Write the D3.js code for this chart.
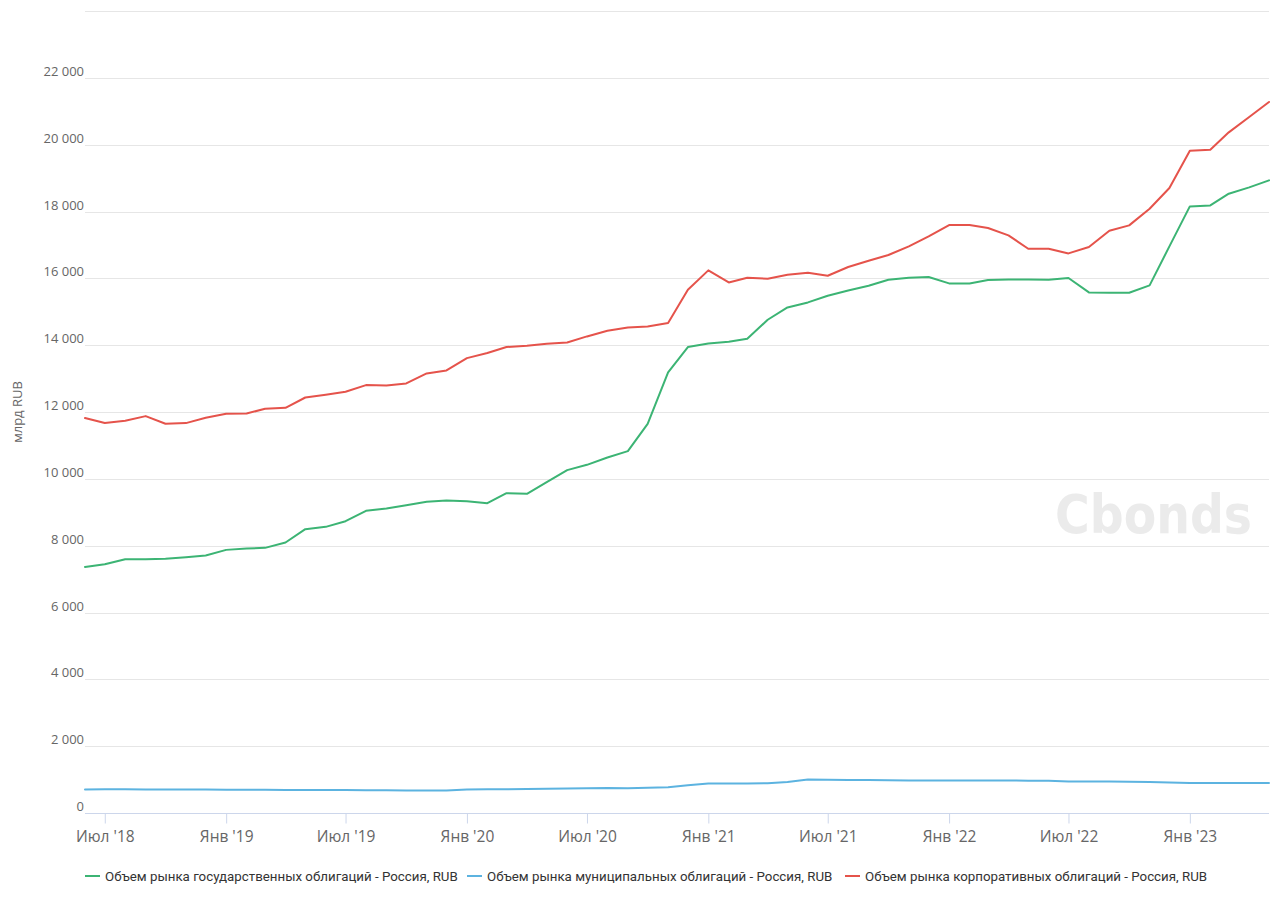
<!DOCTYPE html>
<html>
<head>
<meta charset="utf-8">
<script src="https://cdn.jsdelivr.net/npm/d3@7"></script>
<style>
  html, body { margin: 0; padding: 0; background: #fff; }
  svg { display: block; }
</style>
</head>
<body>
<svg id="chart" width="1280" height="909"></svg>
<script>
// ---- data ----
const startMonth = "2018-06"; // first point (monthly series, 60 points)
const seriesNames = [
  "Объем рынка государственных облигаций - Россия, RUB",
  "Объем рынка муниципальных облигаций - Россия, RUB",
  "Объем рынка корпоративных облигаций - Россия, RUB"
];
const govValues = [
  7365, 7445, 7595, 7595, 7605, 7655, 7705, 7874, 7914, 7934,
  8094, 8493, 8563, 8733, 9042, 9112, 9212, 9311, 9351, 9332,
  9272, 9571, 9551, 9900, 10260, 10419, 10638, 10829, 11647, 13183,
  13943, 14051, 14102, 14192, 14760, 15129, 15279, 15479, 15638, 15778,
  15958, 16018, 16039, 15848, 15848, 15949, 15968, 15968, 15958, 16009,
  15578, 15568, 15568, 15788, 16956, 18153, 18183, 18533, 18722, 18931
];
const muniValues = [
  705, 710, 708, 706, 704, 702, 700, 697, 695, 693,
  692, 690, 688, 686, 684, 680, 676, 670, 672, 700,
  712, 714, 716, 726, 732, 742, 750, 742, 752, 772,
  830, 880, 885, 886, 890, 930, 1005, 992, 988, 985,
  980, 976, 975, 975, 972, 970, 970, 968, 965, 945,
  940, 940, 935, 925, 915, 895, 895, 895, 895, 898
];
const corpValues = [
  11818, 11668, 11736, 11877, 11647, 11668, 11826, 11946, 11956, 12096,
  12126, 12434, 12515, 12605, 12805, 12795, 12854, 13153, 13243, 13613,
  13764, 13943, 13982, 14042, 14082, 14262, 14431, 14531, 14561, 14661,
  15659, 16238, 15878, 16018, 15988, 16108, 16168, 16078, 16338, 16527,
  16697, 16956, 17255, 17595, 17595, 17505, 17285, 16886, 16886, 16746,
  16936, 17425, 17585, 18084, 18703, 19820, 19850, 20369, 20829, 21278
];
const yTicks = [0, 2000, 4000, 6000, 8000, 10000, 12000, 14000, 16000, 18000, 20000, 22000, 24000];
const monthNames = ["Янв","Фев","Мар","Апр","Май","Июн","Июл","Авг","Сен","Окт","Ноя","Дек"];
const yTitle = "млрд RUB";
const watermark = "Cbonds";
const colors = ["#3cb474", "#5cb3e0", "#e5534b"];

// ---- build ----
const parse = d3.timeParse("%Y-%m");
const d0 = parse(startMonth);
const dates = govValues.map((_, i) => d3.timeMonth.offset(d0, i));
const series = [govValues, muniValues, corpValues].map((vals, k) => ({
  name: seriesNames[k], color: colors[k],
  points: vals.map((v, i) => ({ date: dates[i], value: v }))
}));

const svg = d3.select("#chart");
const plotLeft = 85, plotRight = 1269, plotTop = 11, plotBottom = 813;

const x = d3.scaleTime().domain([dates[0], dates[dates.length - 1]]).range([plotLeft, plotRight]);
const y = d3.scaleLinear().domain([0, 24000]).range([plotBottom, plotTop]);

const fmtNum = v => d3.format(",")(v).replace(/,/g, " ");

// watermark
svg.append("text")
  .attr("x", 1055).attr("y", 533)
  .attr("textLength", 197).attr("lengthAdjust", "spacingAndGlyphs")
  .style("font-family", "DejaVu Sans").style("font-weight", "bold")
  .style("font-size", "53px").style("fill", "#ebebeb")
  .text(watermark);

// grid lines
svg.append("g").selectAll("line").data(yTicks.filter(t => t > 0)).join("line")
  .attr("x1", plotLeft).attr("x2", plotRight)
  .attr("y1", d => Math.round(y(d)) + 0.5).attr("y2", d => Math.round(y(d)) + 0.5)
  .attr("stroke", "#e6e6e6").attr("stroke-width", 1);

// y labels
svg.append("g").selectAll("text").data(yTicks.filter(t => t < 24000)).join("text")
  .attr("x", 84).attr("y", d => y(d) - 2)
  .attr("text-anchor", "end")
  .style("font-family", "Open Sans").style("font-size", "13px").style("fill", "#666")
  .text(d => fmtNum(d));

// y title
svg.append("text")
  .attr("transform", `translate(22,${(plotTop + plotBottom) / 2}) rotate(-90)`)
  .attr("text-anchor", "middle")
  .style("font-family", "Open Sans").style("font-size", "13px").style("fill", "#666")
  .text(yTitle);

// x axis
const xTicks = d3.timeMonth.every(6).range(d3.timeMonth.offset(d0, 1), d3.timeMonth.offset(dates[dates.length - 1], 1));
const xAxis = d3.axisBottom(x)
  .tickValues(xTicks)
  .tickSize(10)
  .tickPadding(7)
  .tickFormat(d => monthNames[d.getMonth()] + " '" + String(d.getFullYear()).slice(2));
const gx = svg.append("g").attr("transform", `translate(0,${plotBottom + 0.5})`).call(xAxis);
gx.select(".domain").attr("stroke", "#ccd6eb").attr("d", `M${plotLeft},0H${plotRight}`);
gx.selectAll(".tick line").attr("stroke", "#ccd6eb");
gx.selectAll(".tick text")
  .style("font-family", "Open Sans").style("font-size", "15.5px").style("fill", "#666");

// lines
const line = d3.line().x(d => x(d.date)).y(d => y(d.value));
svg.append("g").selectAll("path").data(series).join("path")
  .attr("d", d => line(d.points))
  .attr("fill", "none")
  .attr("stroke", d => d.color)
  .attr("stroke-width", 2)
  .attr("stroke-linejoin", "round")
  .attr("stroke-linecap", "round");

// legend
const legendX = [85, 467, 845];
const lg = svg.append("g").selectAll("g").data(series).join("g")
  .attr("transform", (d, i) => `translate(${legendX[i]},876)`);
lg.append("line").attr("x1", 0).attr("x2", 15).attr("y1", 0).attr("y2", 0)
  .attr("stroke", d => d.color).attr("stroke-width", 2);
lg.append("text").attr("x", 20).attr("y", 4.5)
  .style("font-family", "Roboto").style("font-size", "13.3px").style("fill", "#333")
  .text(d => d.name);
</script>
</body>
</html>
